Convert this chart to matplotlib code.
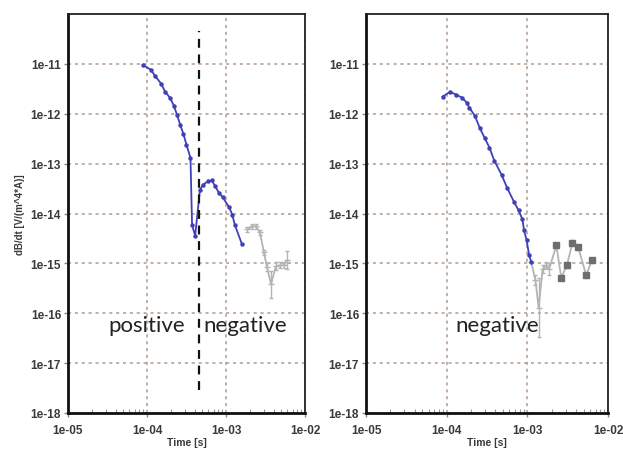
import matplotlib
matplotlib.use("Agg")
import matplotlib.pyplot as plt
import numpy as np
from matplotlib.ticker import LogLocator, FixedLocator, FixedFormatter, NullFormatter

# ---------------- data ----------------
left_blue_t = [8.9e-5, 1.12e-4, 1.26e-4, 1.51e-4, 1.70e-4, 1.95e-4, 2.19e-4, 2.40e-4,
               2.63e-4, 2.88e-4, 3.16e-4, 3.55e-4, 3.72e-4, 4.07e-4,
               4.68e-4, 5.13e-4, 5.89e-4, 6.61e-4, 7.24e-4, 8.13e-4, 9.12e-4,
               1.10e-3, 1.20e-3, 1.29e-3, 1.58e-3]
left_blue_v = [9.5e-12, 7.6e-12, 5.8e-12, 4.0e-12, 2.75e-12, 2.1e-12, 1.45e-12, 9.5e-13,
               6.0e-13, 4.0e-13, 2.4e-13, 1.3e-13, 5.8e-15, 3.6e-15,
               3.0e-14, 3.8e-14, 4.4e-14, 4.6e-14, 3.6e-14, 2.6e-14, 2.1e-14,
               1.32e-14, 9.5e-15, 6.0e-15, 2.5e-15]
left_gray_t = [1.86e-3, 2.14e-3, 2.40e-3, 2.69e-3, 3.02e-3, 3.31e-3, 3.72e-3, 4.27e-3,
               4.79e-3, 5.37e-3, 6.0e-3]
left_gray_v = [4.8e-15, 5.5e-15, 5.5e-15, 4.2e-15, 1.66e-15, 8.3e-16, 3.8e-16, 8.7e-16,
               9.1e-16, 9.1e-16, 1.15e-15]
left_gray_err = [0.05, 0.05, 0.05, 0.05, 0.05, 0.08, 0.27, 0.08, 0.06, 0.06, 0.18]

right_blue_t = [8.9e-5, 1.10e-4, 1.32e-4, 1.55e-4, 1.78e-4, 1.91e-4, 2.24e-4, 2.57e-4,
                2.95e-4, 3.39e-4, 3.89e-4, 4.79e-4, 5.6e-4, 6.8e-4, 7.8e-4, 8.7e-4,
                9.1e-4, 9.8e-4, 1.05e-3, 1.12e-3]
right_blue_v = [2.2e-12, 2.75e-12, 2.4e-12, 2.1e-12, 1.66e-12, 1.32e-12, 9.1e-13, 5.2e-13,
                3.3e-13, 2.1e-13, 1.15e-13, 6.0e-14, 3.3e-14, 1.74e-14, 1.15e-14, 7.6e-15,
                4.6e-15, 2.9e-15, 1.5e-15, 1.05e-15]
right_gray_t = [1.12e-3, 1.26e-3, 1.38e-3, 1.55e-3, 1.70e-3, 1.86e-3, 2.29e-3, 2.63e-3,
                3.09e-3, 3.63e-3, 4.27e-3, 5.37e-3, 6.3e-3]
right_gray_v = [1.05e-15, 4.6e-16, 1.3e-16, 7.6e-16, 9.1e-16, 7.6e-16, 2.3e-15, 5.2e-16,
                9.1e-16, 2.6e-15, 2.1e-15, 5.8e-16, 1.15e-15]
right_gray_err = [0.0, 0.1, 0.6, 0.08, 0.06, 0.12, 0.05, 0.05, 0.05, 0.05, 0.05, 0.05, 0.05]
right_gray_square = [False, False, False, False, False, False, True, True, True, True, True, True, True]

divider_t = 4.6e-4
divider_v = [2.9e-18, 4.6e-11]

xticks = [1e-5, 1e-4, 1e-3, 1e-2]
xticklabels = ["1e-05", "1e-04", "1e-03", "1e-02"]
yticks = [1e-18, 1e-17, 1e-16, 1e-15, 1e-14, 1e-13, 1e-12, 1e-11]
yticklabels = ["1e-18", "1e-17", "1e-16", "1e-15", "1e-14", "1e-13", "1e-12", "1e-11"]

# ---------------- styling ----------------
BLUE = "#4040b8"
GRAY = "#b4b4b4"
DKGRAY = "#6e6e6e"
GRID = "#b09a8c"
TICKC = "#3a3a3a"

fig = plt.figure(figsize=(6.23, 4.52), dpi=100)
axL = fig.add_axes([68/623, 1-414/452, (305-68)/623, (414-15)/452])
axR = fig.add_axes([366/623, 1-414/452, (608-366)/623, (414-15)/452])


def style(ax):
    ax.set_xscale("log")
    ax.set_yscale("log")
    ax.set_xlim(1e-5, 1e-2)
    ax.set_ylim(1e-18, 1e-10)
    ax.xaxis.set_major_locator(FixedLocator(xticks))
    ax.xaxis.set_major_formatter(FixedFormatter(xticklabels))
    ax.yaxis.set_major_locator(FixedLocator(yticks))
    ax.yaxis.set_major_formatter(FixedFormatter(yticklabels))
    ax.xaxis.set_minor_locator(LogLocator(base=10, subs=np.arange(2, 10)))
    ax.xaxis.set_minor_formatter(NullFormatter())
    ax.yaxis.set_minor_locator(FixedLocator([]))
    ax.grid(True, which="major", linestyle=(0, (2, 2.5)), color=GRID, linewidth=1.1)
    for s in ["left", "bottom"]:
        ax.spines[s].set_linewidth(2.0)
        ax.spines[s].set_color("#111111")
    for s in ["top", "right"]:
        ax.spines[s].set_linewidth(1.3)
        ax.spines[s].set_color("#222222")
    ax.tick_params(axis="both", which="major", direction="out", length=3, width=1,
                   color="#888888", labelsize=8.5, labelcolor=TICKC, pad=2)
    ax.tick_params(axis="x", which="major", pad=5)
    ax.tick_params(axis="x", which="minor", direction="in", length=3, width=0.8,
                   color="#999999")
    for lab in ax.get_xticklabels() + ax.get_yticklabels():
        lab.set_fontweight("bold")
        lab.set_family("Liberation Sans")
    ax.set_xlabel("Time [s]", fontsize=7.5, color=TICKC, labelpad=1,
                  family="Liberation Sans", fontweight="bold")
    ax.set_axisbelow(True)


def gray_series(ax, t, v, err, square=None):
    t = np.asarray(t)
    v = np.asarray(v)
    e = np.asarray(err)
    lo = v - v * 10 ** (-e)
    hi = v * 10 ** e - v
    ax.errorbar(t, v, yerr=[lo, hi], color=GRAY, lw=1.3, marker="_", ms=4,
                elinewidth=1.0, capsize=1.5, zorder=3)
    if square is not None:
        m = np.asarray(square)
        ax.plot(t[m], v[m], ls="none", marker="s", ms=4.2, color=DKGRAY,
                markeredgecolor=DKGRAY, zorder=4)


for ax in (axL, axR):
    style(ax)

# left panel
axL.plot(left_blue_t, left_blue_v, color=BLUE, lw=1.3, marker="o", ms=2.2, zorder=5)
gray_series(axL, left_gray_t, left_gray_v, left_gray_err)
axL.plot([divider_t, divider_t], divider_v, color="#111111", lw=1.6,
         ls=(0, (4, 3)), zorder=6)
axL.text(1.0e-4, 5.8e-17, "positive", fontsize=16, family="Lato",
         ha="center", va="center", color="#222222")
axL.text(1.74e-3, 5.8e-17, "negative", fontsize=16, family="Lato",
         ha="center", va="center", color="#222222")
axL.set_ylabel("dB/dt [V/(m^4*A)]", fontsize=7, color=TICKC, labelpad=4,
               family="Liberation Sans", fontweight="bold")

# right panel
axR.plot(right_blue_t, right_blue_v, color=BLUE, lw=1.3, marker="o", ms=2.2, zorder=5)
gray_series(axR, right_gray_t, right_gray_v, right_gray_err, right_gray_square)
axR.text(4.2e-4, 5.8e-17, "negative", fontsize=16, family="Lato",
         ha="center", va="center", color="#222222")

fig.savefig("out.png", dpi=100)
